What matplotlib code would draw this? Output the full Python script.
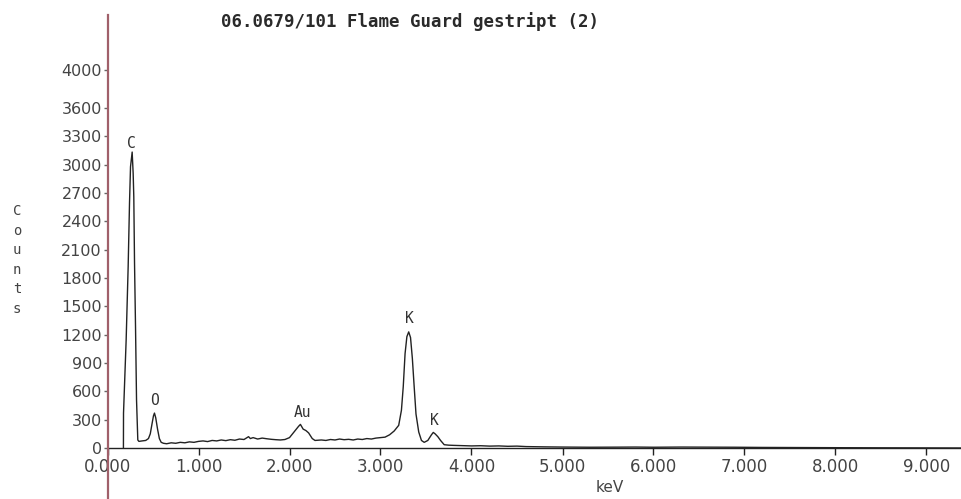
import matplotlib
matplotlib.use("Agg")
import matplotlib.pyplot as plt
from matplotlib.lines import Line2D

# --- SPECTRUM DATA ---
energy_kev = [
    0.175, 0.176, 0.205, 0.227, 0.242, 0.253, 0.271, 0.282, 0.289, 0.297,
    0.308, 0.319, 0.333, 0.345, 0.38, 0.42, 0.45, 0.47, 0.49, 0.505,
    0.516, 0.53, 0.55, 0.57, 0.59, 0.615, 0.65,
    0.70, 0.75, 0.80, 0.85, 0.90, 0.95, 1.00, 1.05, 1.10, 1.15,
    1.20, 1.25, 1.30, 1.35, 1.40, 1.45, 1.50, 1.55, 1.57, 1.60,
    1.65, 1.70, 1.75, 1.80, 1.85, 1.90, 1.95, 2.00, 2.05, 2.10,
    2.12, 2.15, 2.18, 2.21, 2.25, 2.28, 2.35, 2.40, 2.45, 2.50,
    2.55, 2.60, 2.65, 2.70, 2.75, 2.80, 2.85, 2.90, 2.95, 3.00,
    3.05, 3.10, 3.15, 3.20, 3.23, 3.25, 3.27, 3.29, 3.31, 3.33,
    3.35, 3.37, 3.39, 3.42, 3.45, 3.48, 3.52, 3.56, 3.58, 3.60,
    3.63, 3.66, 3.70, 3.75, 3.80, 3.90, 4.00, 4.10, 4.20, 4.30,
    4.40, 4.50, 4.60, 4.80, 5.00, 5.30, 5.60, 5.80, 6.00, 6.30,
    6.60, 6.90, 7.20, 7.50, 7.80, 8.10, 8.50, 9.00, 9.40,
]
counts = [
    0, 370, 1145, 1920, 2600, 2980, 3135, 2910, 2660, 1960,
    1280, 510, 85, 70, 75, 80, 100, 150, 260, 340,
    370, 320, 200, 100, 60, 50, 45,
    55, 50, 60, 55, 65, 60, 70, 75, 68, 80,
    75, 85, 78, 88, 82, 95, 90, 120, 100, 110,
    95, 105, 98, 92, 88, 85, 90, 110, 170, 230,
    250, 200, 185, 160, 100, 80, 85, 80, 90, 85,
    95, 88, 92, 85, 95, 90, 100, 95, 105, 110,
    115, 140, 180, 240, 400, 650, 1000, 1180, 1230, 1170,
    950, 650, 360, 170, 80, 60, 80, 140, 165, 150,
    120, 80, 35, 30, 28, 25, 22, 24, 20, 22,
    18, 20, 15, 12, 10, 8, 9, 10, 8, 10,
    9, 8, 6, 5, 4, 3, 2, 1, 0,
]

# peak labels: element, energy, label centre height in counts
peak_names = ["C", "O", "Au", "K", "K"]
peak_energy = [0.265, 0.52, 2.14, 3.32, 3.59]
peak_label_y = [3230, 505, 380, 1375, 295]

x_ticks = [0, 1, 2, 3, 4, 5, 6, 7, 8, 9]
y_ticks = [0, 300, 600, 900, 1200, 1500, 1800, 2100, 2400, 2700, 3000, 3300, 3600, 4000]

W, H = 962, 499
fig = plt.figure(figsize=(W / 100, H / 100), dpi=100)
left_px, bottom_px, top_px = 107.5, 448, 15
ax = fig.add_axes([left_px / W, 1 - bottom_px / H, 1 - left_px / W, (bottom_px - top_px) / H])

ax.plot(energy_kev, counts, color="#222222", linewidth=1.0)

for name, e, y in zip(peak_names, peak_energy, peak_label_y):
    ax.text(e, y, name, ha="center", va="center", fontsize=10.5,
            family="DejaVu Sans Mono", color="#333333")

ax.set_xlim(0, (W - left_px) / 91.0)
ax.set_ylim(0, (bottom_px - top_px) / 0.0944)

for side in ["left", "top", "right"]:
    ax.spines[side].set_visible(False)
ax.spines["bottom"].set_color("#222222")
ax.spines["bottom"].set_linewidth(1.0)

ax.set_xticks(x_ticks)
ax.set_xticklabels([f"{t:.3f}" for t in x_ticks])
ax.set_yticks(y_ticks)
ax.set_yticklabels([str(t) for t in y_ticks])
ax.tick_params(axis="x", direction="out", length=5, width=1, color="#222222",
               labelsize=12, labelcolor="#444444", pad=2)
ax.tick_params(axis="y", direction="out", length=3, width=1, color="#666666",
               labelsize=11.5, labelcolor="#444444", pad=1)

# reddish y axis line, runs below the x axis down to the bottom edge
fig.add_artist(Line2D([left_px / W, left_px / W], [0, 1 - top_px / H],
                      transform=fig.transFigure, color="#a0606a", linewidth=1.6))

fig.text(410 / W, 1 - 22 / H, "06.0679/101 Flame Guard gestript (2)", ha="center", va="center",
         fontsize=12.5, family="DejaVu Sans Mono", fontweight="bold", color="#2a2a2a")
fig.text(17 / W, 1 - 260 / H, "C\no\nu\nn\nt\ns", ha="center", va="center",
         fontsize=10, family="DejaVu Sans Mono", color="#444444", linespacing=1.5)
fig.text(610 / W, 1 - 488 / H, "keV", ha="center", va="center", fontsize=11, color="#444444")

fig.savefig("out.png", dpi=100)
